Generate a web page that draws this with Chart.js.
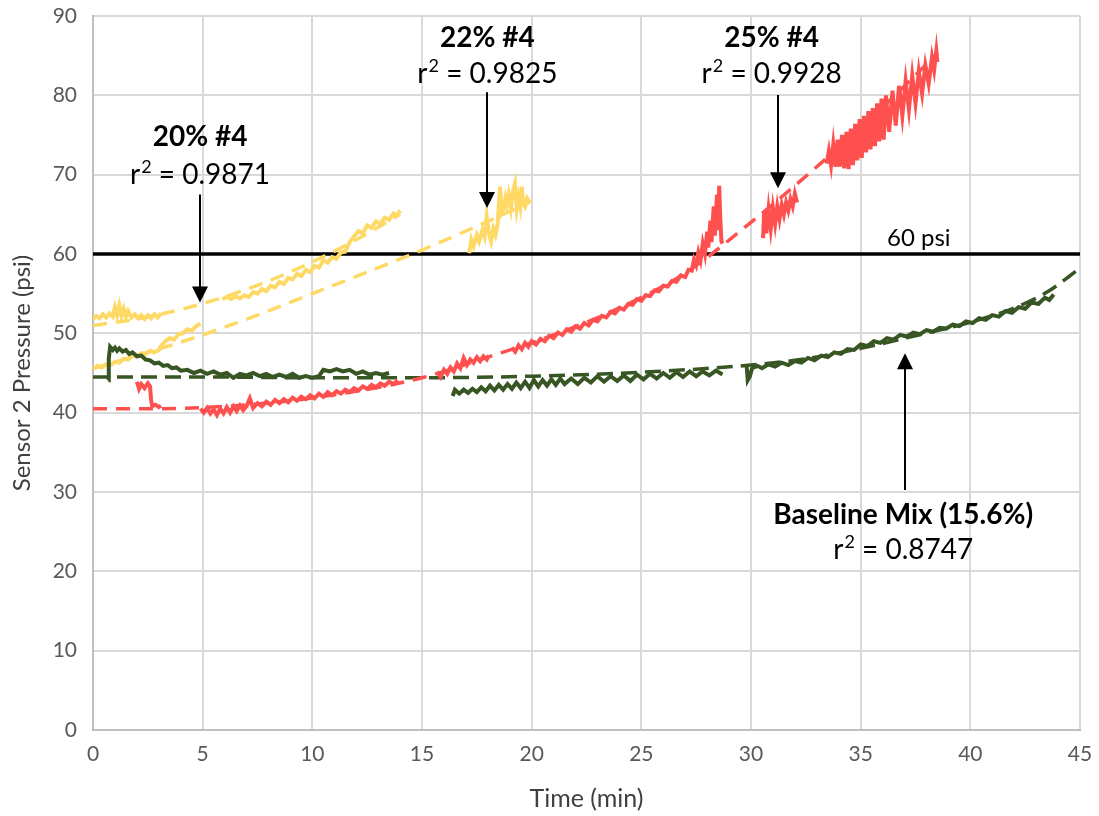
<!DOCTYPE html>
<html>
<head>
<meta charset="utf-8">
<script src="https://cdn.jsdelivr.net/npm/chart.js@4.4.1/dist/chart.umd.min.js"></script>
<style>
  html, body { margin: 0; padding: 0; background: #fff; }
  #wrap { width: 1099px; height: 816px; }
</style>
</head>
<body>
<div id="wrap"><canvas id="pressureChart"></canvas></div>
<script>
const mix20a = [[0,51.8],[0.15,52.2],[0.3,51.9],[0.45,52.4],[0.6,52.0],[0.75,52.5],[0.9,52.1],[1.0,53.3],[1.1,52.3],[1.2,53.5],[1.3,52.2],[1.4,53.1],[1.5,52.1],[1.6,52.8],[1.75,52.0],[1.9,52.4],[2.05,51.9],[2.2,52.3],[2.35,51.8],[2.5,52.3],[2.65,51.9],[2.8,52.4],[2.95,52.0],[3.1,52.5]]
const mix20b = [[5.9,54.3],[6.1,54.6],[6.3,54.3],[6.5,54.7],[6.7,54.4],[6.9,54.8],[7.1,54.6],[7.3,55.2],[7.5,55.0],[7.7,55.6],[7.9,55.3],[8.1,56.0],[8.3,55.8],[8.5,56.5],[8.7,56.2],[8.9,57.0],[9.1,56.8],[9.3,57.5],[9.5,57.2],[9.7,58.0],[9.9,57.7],[10.1,58.5],[10.3,58.3],[10.5,59.2],[10.7,58.9],[10.9,59.6],[11.1,59.4],[11.3,60.2],[11.5,60.3],[11.7,61.5],[11.9,62.2],[12.1,62.9],[12.3,62.6],[12.5,63.6],[12.7,63.3],[12.9,64.1],[13.1,63.8],[13.3,64.6],[13.5,64.3],[13.7,65.1],[13.85,64.8],[14.0,65.5]]
const mix22a = [[0,45.5],[0.2,45.9],[0.4,45.7],[0.6,46.1],[0.8,46.0],[1.0,46.4],[1.2,46.3],[1.4,46.8],[1.6,46.7],[1.8,47.2],[2.0,47.1],[2.2,47.5],[2.4,47.4],[2.6,47.8],[2.8,47.6],[3.0,47.9],[3.1,48.4],[3.3,49.0],[3.5,49.4],[3.7,49.2],[3.9,49.9],[4.1,50.0],[4.3,50.5],[4.5,50.3],[4.7,50.9],[4.9,51.2]]
const mix22b = [[17.15,60.1],[17.25,61.8],[17.35,61.0],[17.5,62.4],[17.6,61.6],[17.75,63.0],[17.85,62.2],[17.95,64.7],[18.05,62.6],[18.15,61.6],[18.25,63.2],[18.35,62.4],[18.45,63.8],[18.5,66.0],[18.56,68.5],[18.63,65.2],[18.71,65.6],[18.8,67.0],[18.86,66.2],[18.95,67.5],[19.05,65.8],[19.15,68.0],[19.24,68.9],[19.32,65.8],[19.4,67.2],[19.48,66.0],[19.55,68.5],[19.62,66.4],[19.7,66.0],[19.8,67.0],[19.93,66.4]]
const mix25a = [[2.0,43.9],[2.1,43.0],[2.2,43.6],[2.35,43.1],[2.5,43.7],[2.6,43.3],[2.65,41.6],[2.7,40.8],[2.85,41.0],[3.0,40.7],[3.1,40.9]]
const mix25b = [[4.9,40.5],[5.05,40.0],[5.2,40.6],[5.35,39.9],[5.5,40.4],[5.65,39.7],[5.8,40.5],[5.95,39.9],[6.1,40.7],[6.25,40.0],[6.4,40.8],[6.55,40.2],[6.7,40.9],[6.85,40.3],[7.0,40.8],[7.15,41.8],[7.3,40.6],[7.5,41.2],[7.7,40.8],[7.9,41.4],[8.1,41.0],[8.3,41.6],[8.5,41.2],[8.7,41.7],[8.9,41.3],[9.1,41.9],[9.3,41.5],[9.5,42.0],[9.7,41.7],[9.9,42.2],[10.1,41.8],[10.3,42.4],[10.5,42.0],[10.7,42.6],[10.9,42.2],[11.1,42.7],[11.3,42.4],[11.5,42.9],[11.7,42.6],[11.9,43.1],[12.1,42.8],[12.3,43.3],[12.5,43.0],[12.7,43.5],[12.9,43.2],[13.1,43.7],[13.3,43.4],[13.5,43.9],[13.7,43.6],[13.9,44.1]]
const mix25c = [[15.7,45.2],[15.85,44.5],[16.0,45.4],[16.15,44.9],[16.3,45.7],[16.45,45.2],[16.6,46.2],[16.75,45.6],[16.9,46.9],[17.05,46.0],[17.2,46.7],[17.35,46.3],[17.5,47.0],[17.65,46.5],[17.8,47.1],[17.95,46.7],[18.05,47.2]]
const mix25d = [[19.1,48.2],[19.25,47.7],[19.4,48.5],[19.55,48.0],[19.7,48.8],[19.85,48.3],[20.0,49.0],[20.2,48.6],[20.4,49.3],[20.6,49.0],[20.8,49.7],[21.0,49.4],[21.2,50.1],[21.4,49.8],[21.6,50.5],[21.8,50.2],[22.0,50.9],[22.2,50.6],[22.4,51.3],[22.6,51.0],[22.8,51.7],[23.0,51.5],[23.2,52.2],[23.4,52.0],[23.6,52.7],[23.8,52.5],[24.0,53.2],[24.2,53.0],[24.4,53.7],[24.6,53.6],[24.8,54.3],[25.0,54.1],[25.2,54.8],[25.4,54.7],[25.6,55.4],[25.8,55.3],[26.0,56.0],[26.2,55.9],[26.4,56.6],[26.6,56.5],[26.8,57.3],[27.0,57.1],[27.15,58.0],[27.3,57.9],[27.4,59.3],[27.5,58.6],[27.6,60.2],[27.7,59.2],[27.8,61.3],[27.9,60.0],[28.0,62.8],[28.05,60.8],[28.15,64.2],[28.2,61.5],[28.3,66.0],[28.35,62.3],[28.45,67.5],[28.5,63.0],[28.55,68.6],[28.6,64.5],[28.65,61.6],[28.7,61.3]]
const mix25e = [[30.55,62.0],[30.6,65.4],[30.7,62.6],[30.8,65.6],[30.9,63.2],[31.0,65.8],[31.1,63.8],[31.2,66.0],[31.3,64.4],[31.4,66.2],[31.5,65.0],[31.6,66.5],[31.7,65.5],[31.8,66.9],[31.9,66.0],[32.0,67.6],[32.1,66.5]]
const mix25f = [[33.45,71.4],[33.55,73.0],[33.65,71.2],[33.75,73.8],[33.85,71.0],[33.95,74.4],[34.05,71.0],[34.15,75.0],[34.25,70.8],[34.35,75.4],[34.45,70.7],[34.55,75.8],[34.65,71.2],[34.75,76.4],[34.85,71.8],[34.95,77.0],[35.05,72.1],[35.15,77.4],[35.25,72.8],[35.35,78.0],[35.45,73.2],[35.55,78.4],[35.65,73.6],[35.75,79.0],[35.85,74.2],[35.95,79.6],[36.05,74.4],[36.15,80.0],[36.3,75.4],[36.45,80.6],[36.6,76.2],[36.75,81.2],[36.9,77.4],[37.05,81.8],[37.2,78.2],[37.35,82.5],[37.5,79.0],[37.65,83.0],[37.8,80.2],[37.95,83.8],[38.1,81.5],[38.25,84.8],[38.35,83.2],[38.45,85.6],[38.5,84.2]]
const baseA = [[0.7,44.1],[0.72,46.8],[0.78,48.3],[0.9,47.9],[1.0,48.2],[1.1,47.8],[1.2,48.1],[1.35,47.7],[1.5,47.9],[1.65,47.4],[1.8,47.6],[2.0,47.1],[2.2,47.2],[2.4,46.7],[2.6,46.6],[2.8,46.2],[3.0,46.3],[3.2,45.9],[3.4,46.0],[3.6,45.6],[3.8,45.7],[4.0,45.3],[4.3,45.4],[4.6,45.0],[4.9,45.3],[5.2,44.9],[5.5,45.2],[5.8,44.8],[6.1,45.0],[6.4,44.4],[6.7,44.9],[7.0,44.7],[7.3,45.0],[7.6,44.6],[7.9,44.9],[8.2,44.5],[8.5,44.8],[8.8,44.5],[9.1,44.9],[9.4,44.4],[9.7,44.6],[10.0,44.4],[10.3,44.6],[10.5,45.4],[10.8,45.2],[11.1,45.5],[11.4,45.2],[11.7,45.4],[12.0,44.9],[12.3,45.2],[12.6,44.8],[12.9,45.0],[13.2,44.8],[13.5,45.0]]
const baseB = [[16.4,42.1],[16.5,42.9],[16.7,42.4],[16.9,42.9],[17.1,42.5],[17.3,43.0],[17.5,42.6],[17.7,43.2],[17.9,42.7],[18.1,43.4],[18.3,42.8],[18.5,43.5],[18.7,42.9],[18.9,43.6],[19.1,43.0],[19.3,43.8],[19.5,43.1],[19.7,43.9],[19.9,43.1],[20.1,44.1],[20.3,43.3],[20.5,44.1],[20.7,43.4],[20.9,44.2],[21.1,43.5],[21.3,44.3],[21.5,43.6],[21.8,44.3],[22.1,43.6],[22.4,44.4],[22.7,43.8],[23.0,44.6],[23.3,43.9],[23.6,44.6],[23.9,44.0],[24.2,44.7],[24.5,44.0],[24.8,44.8],[25.1,44.2],[25.4,44.9],[25.7,44.3],[26.0,45.0],[26.3,44.4],[26.6,45.1],[26.9,44.5],[27.2,45.2],[27.5,44.6],[27.8,45.2],[28.1,44.7],[28.4,45.3],[28.7,44.8]]
const baseC = [[29.8,46.0],[29.85,44.1],[29.95,44.6],[30.05,45.6],[30.3,45.9],[30.5,45.6],[30.8,46.1],[31.1,45.8],[31.4,46.3],[31.7,46.0],[32.0,46.5],[32.3,46.3],[32.6,46.9],[32.9,46.6],[33.2,47.2],[33.5,47.0],[33.8,47.6],[34.1,47.4],[34.4,48.0],[34.7,47.9],[35.0,48.6],[35.3,48.4],[35.6,49.0],[35.9,48.8],[36.2,49.4],[36.5,49.2],[36.8,49.8],[37.1,49.6],[37.4,50.1],[37.7,49.9],[38.0,50.4],[38.3,50.2],[38.6,50.7],[38.9,50.6],[39.2,51.1],[39.5,50.9],[39.8,51.5],[40.1,51.3],[40.4,51.9],[40.7,51.7],[41.0,52.3],[41.3,52.1],[41.6,52.8],[41.9,52.6],[42.2,53.3],[42.5,53.1],[42.8,53.9],[43.1,53.7],[43.4,54.5],[43.6,54.2],[43.8,54.9]]

// fitted trend lines (dashed)
const trend20 = [[0,51.0],[2,51.8],[4,53.0],[6,54.6],[8,56.6],[10,59.0],[12,61.8],[14,65.0]]
const trend22 = [[0,45.6],[2.5,47.6],[5,49.8],[7.5,52.3],[10,55.0],[12.5,57.7],[15,60.5],[17.5,63.5],[19.9,66.5]]
const trend25 = [[0,40.5],[3,40.5],[6,40.8],[9,41.5],[12,42.7],[15,44.4],[18,47.0],[21,49.8],[24,53.2],[27,57.6],[30,64.0],[33,71.0],[36,78.5],[38.5,85.3]]
const trendBase = [[0,44.5],[5,44.5],[10,44.4],[15,44.4],[20,44.6],[25,45.1],[30,46.0],[32.5,46.8],[35,48.1],[37.5,49.7],[40,51.4],[42,53.2],[43.5,55.2],[45,58.2]]

const limitPsi = 60
const xTicks = {min: 0, max: 45, step: 5}
const yTicks = {min: 0, max: 90, step: 10}

const yellow = '#FFD966'
const red = '#FF5050'
const green = '#375623'

function pts(arr) {
  return arr.map(p => ({x: p[0], y: p[1]}))
}
function run(arr, color) {
  return {data: pts(arr), borderColor: color, borderWidth: 4, showLine: true, pointRadius: 0, order: 1}
}
function trend(arr, color, dash) {
  return {data: pts(arr), borderColor: color, borderWidth: 3.5, borderDash: dash, showLine: true,
    pointRadius: 0, tension: 0.4, cubicInterpolationMode: 'monotone', order: 2}
}

const callouts = [
  {title: '20% #4', r2: '0.9871', tx: 4.88, ty: 74.75, fy: 69.95, ax: 4.88, from: 67.5, to: 53.9},
  {title: '22% #4', r2: '0.9825', tx: 17.98, ty: 87.2, fy: 82.7, ax: 17.96, from: 80.4, to: 65.8},
  {title: '25% #4', r2: '0.9928', tx: 30.94, ty: 87.2, fy: 82.7, ax: 31.25, from: 80.05, to: 68.3},
  {title: 'Baseline Mix (15.6%)', r2: '0.8747', tx: 36.94, ty: 27.1, fy: 22.7, ax: 37.03, from: 30.25, to: 47.5}
]

// "r² = 0.xxxx" with a real raised 2
function drawFit(ctx, value, cx, cy) {
  const big = '28px Lato', small = '18px Lato'
  const rest = ' = ' + value
  ctx.font = big
  const wR = ctx.measureText('r').width
  const wRest = ctx.measureText(rest).width
  ctx.font = small
  const w2 = ctx.measureText('2').width + 1
  let x0 = cx - (wR + w2 + wRest) / 2
  ctx.textAlign = 'left'
  ctx.font = big
  ctx.fillText('r', x0, cy)
  ctx.font = small
  ctx.fillText('2', x0 + wR + 1, cy - 8)
  ctx.font = big
  ctx.fillText(rest, x0 + wR + w2, cy)
  ctx.textAlign = 'center'
}

const calloutPlugin = {
  id: 'callouts',
  afterDatasetsDraw(chart) {
    const ctx = chart.ctx
    const sx = chart.scales.x, sy = chart.scales.y
    ctx.save()
    ctx.fillStyle = '#000'
    ctx.strokeStyle = '#000'
    ctx.textAlign = 'center'
    ctx.textBaseline = 'middle'
    ctx.font = '24px Lato'
    ctx.fillText('60 psi', sx.getPixelForValue(37.65), sy.getPixelForValue(62.0))
    callouts.forEach(c => {
      ctx.font = 'bold 28px Lato'
      ctx.fillText(c.title, sx.getPixelForValue(c.tx), sy.getPixelForValue(c.ty))
      drawFit(ctx, c.r2, sx.getPixelForValue(c.tx), sy.getPixelForValue(c.fy))
      const ax = Math.round(sx.getPixelForValue(c.ax))
      const y0 = sy.getPixelForValue(c.from), y1 = sy.getPixelForValue(c.to)
      const dir = Math.sign(y1 - y0)
      ctx.lineWidth = 2
      ctx.beginPath()
      ctx.moveTo(ax, y0)
      ctx.lineTo(ax, y1 - dir * 12)
      ctx.stroke()
      ctx.beginPath()
      ctx.moveTo(ax, y1)
      ctx.lineTo(ax - 8, y1 - dir * 16)
      ctx.lineTo(ax + 8, y1 - dir * 16)
      ctx.closePath()
      ctx.fill()
    })
    ctx.restore()
  }
}

const datasets = [
  run(baseA, green), run(baseB, green), run(baseC, green),
  run(mix25a, red), run(mix25b, red), run(mix25c, red), run(mix25d, red), run(mix25e, red), run(mix25f, red),
  run(mix22a, yellow), run(mix22b, yellow),
  run(mix20a, yellow), run(mix20b, yellow),
  trend(trend20, yellow, [14, 9]),
  trend(trend22, yellow, [14, 9]),
  trend(trend25, red, [14, 9]),
  trend(trendBase, green, [16, 8]),
  {data: [{x: xTicks.min, y: limitPsi}, {x: xTicks.max, y: limitPsi}], borderColor: '#000', borderWidth: 3.5,
    showLine: true, pointRadius: 0, order: 3}
]

const tickFont = {family: 'Lato', size: 21}

const ctx = document.getElementById('pressureChart')
new Chart(ctx, {
  type: 'scatter',
  data: {datasets: datasets},
  options: {
    responsive: true,
    maintainAspectRatio: false,
    animation: false,
    layout: {padding: {left: 0, right: 19, top: 16, bottom: 0}},
    plugins: {legend: {display: false}, tooltip: {enabled: false}},
    scales: {
      x: {
        type: 'linear', min: xTicks.min, max: xTicks.max,
        ticks: {stepSize: xTicks.step, font: tickFont, color: '#595959', padding: 12},
        grid: {color: '#D9D9D9', lineWidth: 2, drawTicks: false},
        border: {color: '#BFBFBF', width: 2},
        title: {display: true, text: 'Time (min)', font: {family: 'Lato', size: 25}, color: '#404040', padding: {top: 4, bottom: 2}},
        afterFit(scale) {
          scale.height = 86
          scale.paddingLeft = 0
          scale.paddingRight = 0
        }
      },
      y: {
        min: yTicks.min, max: yTicks.max,
        ticks: {stepSize: yTicks.step, font: tickFont, color: '#595959', padding: 16},
        grid: {color: '#D9D9D9', lineWidth: 2, drawTicks: false},
        border: {color: '#BFBFBF', width: 2},
        title: {display: true, text: 'Sensor 2 Pressure (psi)', font: {family: 'Lato', size: 24}, color: '#404040', padding: {top: 8, bottom: 4}},
        afterFit(scale) {
          scale.width = 93
          scale.paddingTop = 0
          scale.paddingBottom = 0
        }
      }
    }
  },
  plugins: [calloutPlugin]
})
</script>
</body>
</html>
